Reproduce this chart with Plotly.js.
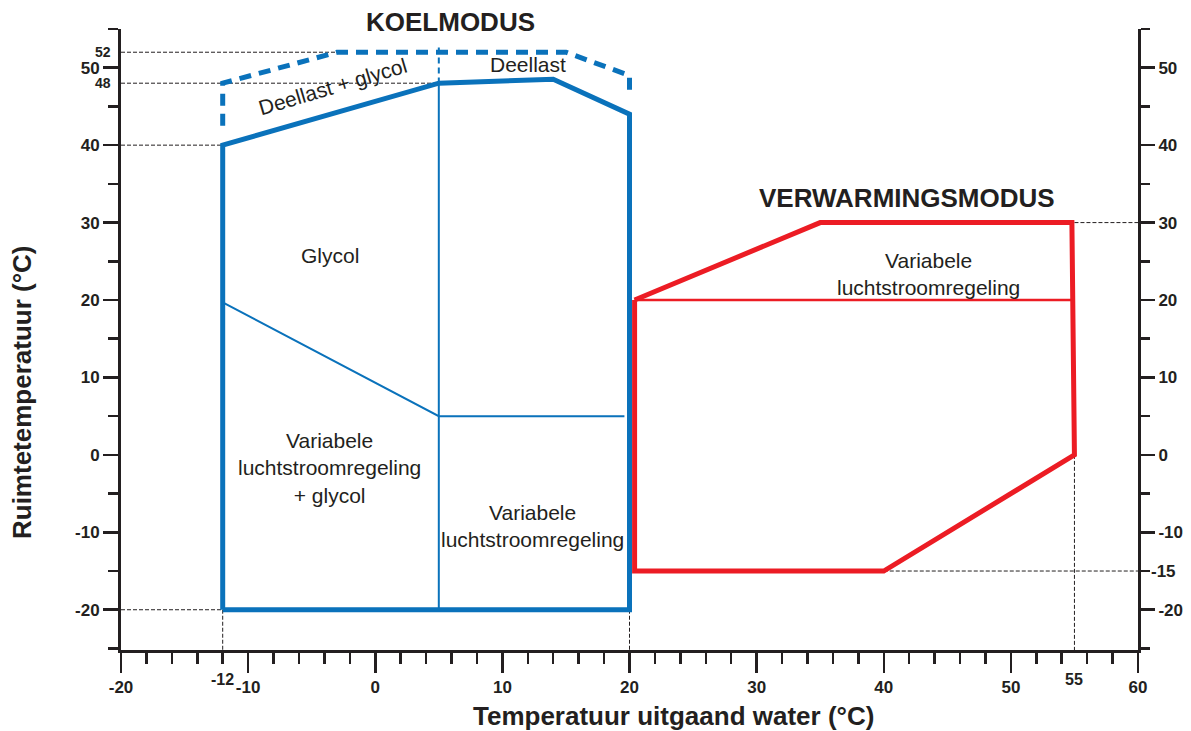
<!DOCTYPE html>
<html>
<head>
<meta charset="utf-8">
<script src="https://cdn.plot.ly/plotly-3.0.1.min.js"></script>
<style>html,body{margin:0;padding:0;background:#fff;}#chart{width:1191px;height:731px;}</style>
</head>
<body>
<div id="chart"></div>
<script>
// ---- data ----
const xRange = [-20, 60];
const yRange = [-25.2, 55];
const xMajorTicks = [-20, -10, 0, 10, 20, 30, 40, 50, 60];
const yMajorTicks = [-20, -10, 0, 10, 20, 30, 40, 50];

// Cooling mode (blue)
const coolOutlineX = [-12, -12, 5, 14, 20, 20, -12];
const coolOutlineY = [-20, 40, 48, 48.5, 44, -20, -20];
const coolDashX = [-12, -12, -3, 15, 20, 20];
const coolDashY = [42.5, 48, 52, 52, 49, 46.3];
const coolDashMidX = [5, 5];
const coolDashMidY = [52.6, 48];
const coolInnerX = [5, 5, null, -12, 5, 19.6];
const coolInnerY = [48, -20, null, 19.7, 5, 5];

// Heating mode (red)
const heatOutlineX = [20.4, 35, 54.8, 55, 40, 20.4, 20.4];
const heatOutlineY = [20, 30, 30, 0, -15, -15, 20];
const heatInnerX = [20.4, 54.8];
const heatInnerY = [20, 20];

// Reference dashed lines (black)
const refX = [-20, -3, null, -20, 5, null, -20, -12, null, -20, -12, null, -12, -12, null, 20, 20, null, 55, 55, null, 40, 60, null, 55, 60];
const refY = [52, 52, null, 48, 48, null, 40, 40, null, -20, -20, null, -20, -25.2, null, -20, -25.2, null, 0, -25.2, null, -15, -15, null, 30, 30];

// Extra labels
const extraYLeft = [52, 48];
const extraX = [-12, 55];
const extraYRight = [-15];

// Region labels
const regionLabels = [
  {x: -3.33, y: 47.6, text: 'Deellast + glycol', angle: -16.5},
  {x: 12.0, y: 50.45, text: 'Deellast', angle: 0},
  {x: -3.56, y: 25.8, text: 'Glycol', angle: 0},
  {x: -3.56, y: -1.7, text: 'Variabele<br>luchtstroomregeling<br>+ glycol', angle: 0},
  {x: 12.33, y: -9.2, text: 'Variabele<br>luchtstroomregeling', angle: 0},
  {x: 43.5, y: 23.4, text: 'Variabele<br>luchtstroomregeling', angle: 0}
];
const modeLabels = [
  {x: 5.95, y: 1.011, text: 'KOELMODUS'},
  {x: 41.8, y: 0.728, text: 'VERWARMINGSMODUS'}
];

const BLUE = '#0a72bb';
const RED = '#ec1c24';
const INK = '#231f20';
const FONT = 'Liberation Sans, Arial, Helvetica, sans-serif';

const base = {type: 'scatter', mode: 'lines', hoverinfo: 'skip', showlegend: false};
const traces = [
  Object.assign({}, base, {x: refX, y: refY, line: {color: INK, width: 1, dash: '4px,2px'}}),
  Object.assign({}, base, {x: coolInnerX, y: coolInnerY, line: {color: BLUE, width: 2}}),
  Object.assign({}, base, {x: coolDashMidX, y: coolDashMidY, line: {color: BLUE, width: 2, dash: '6px,4px'}}),
  Object.assign({}, base, {x: coolDashX, y: coolDashY, line: {color: BLUE, width: 5, dash: '12px,8px'}}),
  Object.assign({}, base, {x: coolOutlineX, y: coolOutlineY, line: {color: BLUE, width: 5}}),
  Object.assign({}, base, {x: heatInnerX, y: heatInnerY, line: {color: RED, width: 2.5}}),
  Object.assign({}, base, {x: heatOutlineX, y: heatOutlineY, line: {color: RED, width: 5}}),
  Object.assign({}, base, {x: [xRange[0]], y: [yRange[0]], yaxis: 'y2', mode: 'markers', marker: {opacity: 0}})
];

const tickFont = {family: FONT, size: 17, color: INK, weight: 'bold'};
const axisCommon = {
  showline: true, linecolor: INK, linewidth: 3, showgrid: false, zeroline: false,
  ticks: 'outside', tickcolor: INK, tickwidth: 2.5, tickfont: tickFont, fixedrange: true
};

const annotations = [];
regionLabels.forEach(r => annotations.push({
  x: r.x, y: r.y, xref: 'x', yref: 'y', text: r.text, showarrow: false, textangle: r.angle,
  font: {family: FONT, size: 21, color: INK}, align: 'center'
}));
modeLabels.forEach(m => annotations.push({
  x: m.x, y: m.y, xref: 'x', yref: 'paper', text: m.text, showarrow: false, yanchor: 'middle',
  font: {family: FONT, size: 26, color: INK, weight: 'bold'}
}));
extraYLeft.forEach(v => annotations.push({
  x: -0.008, y: v, xref: 'paper', yref: 'y', text: String(v), showarrow: false, xanchor: 'right',
  font: {family: FONT, size: 14, color: INK, weight: 'bold'}
}));
extraX.forEach(v => annotations.push({
  x: v, y: -0.047, xref: 'x', yref: 'paper', text: String(v), showarrow: false, yanchor: 'middle',
  font: {family: FONT, size: 16, color: INK, weight: 'bold'}
}));
extraYRight.forEach(v => annotations.push({
  x: 1.0108, y: v, xref: 'paper', yref: 'y', text: String(v), showarrow: false, xanchor: 'left',
  font: {family: FONT, size: 17, color: INK, weight: 'bold'}
}));
annotations.push({
  x: 0.543, y: -0.1063, xref: 'paper', yref: 'paper', text: 'Temperatuur uitgaand water (°C)',
  showarrow: false, yanchor: 'middle', font: {family: FONT, size: 26, color: INK, weight: 'bold'}
});
annotations.push({
  x: -0.0973, y: 0.4155, xref: 'paper', yref: 'paper', text: 'Ruimtetemperatuur (°C)',
  showarrow: false, textangle: -90, xanchor: 'center', yanchor: 'middle',
  font: {family: FONT, size: 26, color: INK, weight: 'bold'}
});

const layout = {
  width: 1191, height: 731,
  margin: {l: 121, r: 53, t: 29, b: 81, pad: 0},
  paper_bgcolor: '#ffffff', plot_bgcolor: '#ffffff',
  showlegend: false,
  xaxis: Object.assign({}, axisCommon, {
    range: xRange, tickvals: xMajorTicks, ticktext: xMajorTicks.map(String), ticklen: 20,
    minor: {dtick: 2, tick0: 0, ticks: 'outside', ticklen: 11, tickwidth: 2.5, tickcolor: INK, showgrid: false}
  }),
  yaxis: Object.assign({}, axisCommon, {
    range: yRange, tickvals: yMajorTicks, ticktext: yMajorTicks.map(String), ticklen: 15,
    minor: {dtick: 5, tick0: 0, ticks: 'outside', ticklen: 10, tickwidth: 2.5, tickcolor: INK, showgrid: false}
  }),
  yaxis2: Object.assign({}, axisCommon, {
    range: yRange, tickvals: yMajorTicks, ticktext: yMajorTicks.map(String), ticklen: 14,
    overlaying: 'y', side: 'right', anchor: 'x',
    minor: {dtick: 5, tick0: 0, ticks: 'outside', ticklen: 9, tickwidth: 2.5, tickcolor: INK, showgrid: false}
  }),
  annotations: annotations
};

Plotly.newPlot('chart', traces, layout, {displayModeBar: false, staticPlot: true});
</script>
</body>
</html>
